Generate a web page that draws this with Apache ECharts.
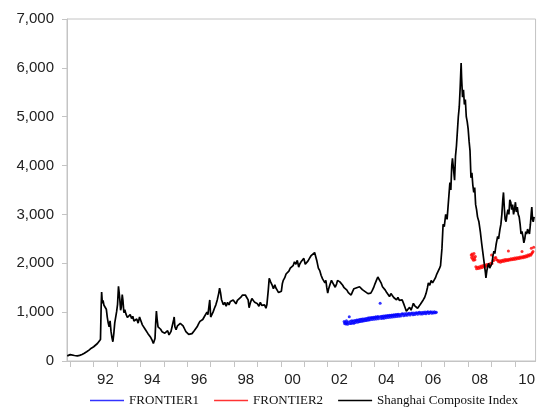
<!DOCTYPE html>
<html>
<head>
<meta charset="utf-8">
<script src="https://cdn.jsdelivr.net/npm/echarts@6/dist/echarts.min.js"></script>
<style>
  html, body { margin: 0; padding: 0; background: #fff; }
  #chart { width: 538px; height: 410px; }
</style>
</head>
<body>
<div id="chart"></div>
<script>
// x values are decimal years, y values index points
var sh1990_1996 = [
  [1990.87,105],[1990.92,128],[1991.00,131],[1991.08,126],[1991.18,113],[1991.30,105],[1991.40,116],
  [1991.50,134],[1991.60,160],[1991.70,190],[1991.80,222],[1991.90,262],[1992.00,292],[1992.08,318],
  [1992.16,358],[1992.24,392],[1992.29,440],[1992.32,1120],[1992.34,1410],[1992.37,1180],[1992.40,1240],
  [1992.44,1140],[1992.50,1100],[1992.54,1060],[1992.58,900],[1992.62,780],[1992.66,700],[1992.70,820],
  [1992.74,610],[1992.78,480],[1992.82,395],[1992.86,560],[1992.90,780],[1992.94,820],[1992.98,1010],
  [1993.02,1160],[1993.06,1530],[1993.09,1390],[1993.12,1240],[1993.15,1040],[1993.18,1100],[1993.22,1360],
  [1993.25,1240],[1993.29,990],[1993.33,1050],[1993.38,960],[1993.44,890],[1993.50,850],[1993.56,950],
  [1993.62,870],[1993.67,915],[1993.72,820],[1993.78,790],[1993.84,860],[1993.90,775],[1993.96,900],
  [1994.02,820],[1994.08,740],[1994.14,720],[1994.20,650],[1994.26,610],[1994.32,560],[1994.38,520],
  [1994.44,480],[1994.50,420],[1994.55,360],[1994.59,330],[1994.62,460],[1994.65,780],[1994.68,1020],
  [1994.71,860],[1994.75,700],[1994.80,730],[1994.86,650],[1994.92,600],[1994.98,640],[1995.04,570],
  [1995.10,555],[1995.16,620],[1995.22,535],[1995.30,600],[1995.38,580],[1995.42,850],[1995.44,900],
  [1995.47,700],[1995.52,640],[1995.58,720],[1995.64,700],[1995.70,770],[1995.76,740],[1995.82,720],
  [1995.88,660],[1995.94,600],[1996.00,560],[1996.06,545],[1996.12,525],[1996.20,560],[1996.28,610],
  [1996.36,640],[1996.42,700],[1996.48,760],[1996.54,810],[1996.60,780],[1996.66,850],[1996.72,900],
  [1996.78,870],[1996.84,1000],[1996.88,950],[1996.92,1100],[1996.96,1250],[1997.00,900]
];
var sh1997_2001 = [
  [1997.05,880],[1997.10,1000],[1997.16,1080],[1997.22,1150],[1997.28,1250],[1997.34,1380],[1997.38,1490],
  [1997.42,1400],[1997.46,1260],[1997.50,1300],[1997.54,1150],[1997.60,1200],[1997.66,1120],[1997.72,1200],
  [1997.78,1150],[1997.84,1220],[1997.90,1180],[1997.96,1250],[1998.02,1220],[1998.08,1170],[1998.14,1240],
  [1998.20,1200],[1998.28,1300],[1998.36,1350],[1998.42,1390],[1998.48,1350],[1998.54,1300],[1998.60,1250],
  [1998.64,1090],[1998.70,1200],[1998.76,1280],[1998.82,1240],[1998.88,1200],[1998.94,1160],[1999.00,1170],
  [1999.06,1120],[1999.12,1200],[1999.18,1140],[1999.24,1100],[1999.30,1150],[1999.36,1080],[1999.40,1150],
  [1999.46,1450],[1999.50,1690],[1999.56,1620],[1999.62,1560],[1999.68,1480],[1999.74,1560],[1999.78,1500],
  [1999.84,1450],[1999.90,1400],[1999.96,1380],[2000.02,1430],[2000.06,1580],[2000.10,1650],[2000.16,1700],
  [2000.22,1780],[2000.28,1800],[2000.34,1840],[2000.40,1900],[2000.46,1870],[2000.52,1950],[2000.58,2030],
  [2000.64,1980],[2000.70,2060],[2000.76,1920],[2000.80,1980],[2000.86,2030],[2000.92,2070],[2000.98,2100],
  [2001.04,1980],[2001.10,2000],[2001.16,2050],[2001.22,2100],[2001.28,2150],[2001.36,2180],[2001.44,2220],
  [2001.48,2180],[2001.54,2040],[2001.60,1900],[2001.66,1850],[2001.72,1750],[2001.78,1680],[2001.84,1720],
  [2001.88,1600],[2001.92,1650],[2001.96,1500]
];
var sh2002_2006 = [
  [2002.00,1390],[2002.04,1480],[2002.10,1570],[2002.16,1650],[2002.20,1620],[2002.26,1560],[2002.32,1510],
  [2002.38,1580],[2002.42,1650],[2002.46,1690],[2002.52,1620],[2002.58,1580],[2002.64,1550],[2002.70,1500],
  [2002.76,1520],[2002.82,1450],[2002.88,1400],[2002.94,1360],[2003.00,1350],[2003.06,1420],[2003.12,1480],
  [2003.18,1520],[2003.24,1500],[2003.30,1540],[2003.36,1520],[2003.42,1480],[2003.48,1460],[2003.54,1450],
  [2003.60,1420],[2003.66,1400],[2003.72,1380],[2003.78,1360],[2003.84,1390],[2003.90,1440],[2003.96,1500],
  [2004.02,1580],[2004.08,1650],[2004.14,1720],[2004.18,1750],[2004.22,1700],[2004.28,1600],[2004.34,1520],
  [2004.40,1480],[2004.46,1450],[2004.52,1400],[2004.58,1360],[2004.64,1320],[2004.70,1380],[2004.76,1340],
  [2004.82,1300],[2004.88,1280],[2004.94,1250],[2005.00,1300],[2005.06,1240],[2005.12,1200],[2005.18,1250],
  [2005.24,1180],[2005.30,1100],[2005.36,1020],[2005.40,1000],[2005.44,1060],[2005.50,1100],[2005.56,1040],
  [2005.62,1120],[2005.66,1180],[2005.72,1130],[2005.78,1100],[2005.84,1080],[2005.90,1120],[2005.96,1160],
  [2006.02,1200],[2006.08,1250],[2006.14,1300],[2006.20,1380],[2006.26,1500],[2006.30,1600],[2006.36,1550],
  [2006.42,1650],[2006.48,1600],[2006.54,1650],[2006.60,1700],[2006.66,1780],[2006.72,1800],[2006.78,1900],
  [2006.82,1950],[2006.88,2300],[2006.93,2800],[2006.98,2750]
];
var sh2007_2010 = [
  [2007.04,3000],[2007.10,2900],[2007.14,3150],[2007.18,3400],[2007.22,3650],[2007.26,3500],[2007.30,4000],
  [2007.33,4150],[2007.38,3900],[2007.42,3700],[2007.46,4200],[2007.50,4400],[2007.54,4700],[2007.58,5000],
  [2007.62,5200],[2007.66,5600],[2007.70,6100],[2007.72,5800],[2007.76,5400],[2007.80,5550],[2007.84,5250],
  [2007.88,5350],[2007.92,5000],[2007.96,4900],[2008.00,4750],[2008.04,4500],[2008.08,4300],[2008.12,3750],
  [2008.16,3850],[2008.20,3600],[2008.24,3450],[2008.28,3550],[2008.32,3200],[2008.36,3100],[2008.40,2950],
  [2008.46,2850],[2008.52,2650],[2008.58,2400],[2008.62,2250],[2008.66,2100],[2008.70,1950],[2008.74,1800],
  [2008.76,1700],[2008.80,1850],[2008.84,1950],[2008.88,2000],[2008.92,1900],[2008.97,1870],[2009.02,2000],
  [2009.06,2150],[2009.10,2250],[2009.14,2200],[2009.20,2400],[2009.26,2550],[2009.30,2500],[2009.36,2700],
  [2009.40,2800],[2009.44,3000],[2009.48,3300],[2009.51,3450],[2009.55,3100],[2009.58,2900],[2009.62,2850],
  [2009.66,3000],[2009.70,3100],[2009.74,3000],[2009.78,3300],[2009.82,3250],[2009.86,3100],[2009.90,3200],
  [2009.94,3000],[2009.98,3100],[2010.02,3250],[2010.06,3050],[2010.10,3150],[2010.14,3000],[2010.18,2950],
  [2010.22,2800],[2010.26,2600],[2010.30,2650],[2010.34,2550],[2010.38,2420],[2010.42,2500],[2010.46,2650],
  [2010.50,2600],[2010.54,2700],[2010.58,2650],[2010.62,2600],[2010.66,2800],[2010.70,3050],[2010.72,3150],
  [2010.75,2900],[2010.78,2850],[2010.82,2950]
];

var frontier1 = [
  [2002.70,810],[2002.72,770],[2002.75,795],[2002.77,755],[2002.80,825],[2002.82,778],[2002.85,752],
  [2002.88,800],[2002.92,905],[2002.94,765],[2002.97,815],[2003.00,770],[2003.03,822],[2003.06,780],
  [2003.09,818],[2003.12,775],[2003.15,830],[2003.18,790],[2003.21,822],[2003.24,840],[2003.27,795],
  [2003.30,838],[2003.33,805],[2003.36,848],[2003.39,808],[2003.42,852],[2003.45,815],[2003.48,858],
  [2003.51,818],[2003.54,862],[2003.57,826],[2003.60,866],[2003.63,830],[2003.66,872],[2003.69,836],
  [2003.72,878],[2003.75,840],[2003.78,884],[2003.81,845],[2003.84,880],[2003.87,892],[2003.90,850],
  [2003.93,886],[2003.96,898],[2003.99,856],[2004.02,892],[2004.05,905],[2004.08,862],[2004.11,896],
  [2004.14,910],[2004.17,866],[2004.20,900],[2004.24,1180],[2004.26,912],[2004.29,872],[2004.32,916],
  [2004.35,880],[2004.38,920],[2004.41,876],[2004.44,914],[2004.47,926],[2004.50,884],[2004.53,920],
  [2004.56,930],[2004.59,890],[2004.62,926],[2004.65,936],[2004.68,894],[2004.71,930],[2004.74,942],
  [2004.77,900],[2004.80,936],[2004.83,948],[2004.86,906],[2004.89,942],[2004.92,952],[2004.95,912],
  [2004.98,946],[2005.01,958],[2005.04,916],[2005.08,950],[2005.12,922],[2005.16,960],[2005.20,966],
  [2005.24,928],[2005.28,966],[2005.32,934],[2005.36,972],[2005.40,936],[2005.44,968],[2005.48,978],
  [2005.52,942],[2005.56,974],[2005.60,982],[2005.64,948],[2005.68,984],[2005.72,952],[2005.76,980],
  [2005.80,990],[2005.84,956],[2005.88,986],[2005.92,996],[2005.96,960],[2006.00,992],[2006.04,964],
  [2006.08,998],[2006.12,970],[2006.16,1002],[2006.20,968],[2006.24,996],[2006.28,1006],[2006.32,972],
  [2006.36,998],[2006.40,1010],[2006.44,976],[2006.48,1004],[2006.52,980],[2006.56,1008],[2006.60,986],
  [2006.64,1000]
];
var frontier2 = [
  [2008.13,2170],[2008.15,2120],[2008.17,2190],[2008.19,2090],[2008.21,2150],[2008.23,2060],[2008.25,2200],
  [2008.27,2110],[2008.29,2070],[2008.31,2140],[2008.33,1930],[2008.36,1890],[2008.40,1920],[2008.44,1895],
  [2008.48,1930],[2008.52,1905],[2008.56,1945],[2008.60,1915],[2008.64,1955],[2008.68,1930],[2008.72,1965],
  [2008.76,1940],[2008.80,1975],[2008.84,1948],[2008.88,1980],[2008.92,1960],[2008.96,2000],[2009.00,2170],
  [2009.02,1995],[2009.06,2050],[2009.10,2060],[2009.14,2110],[2009.18,2120],[2009.22,2070],[2009.26,2060],
  [2009.30,2030],[2009.34,2050],[2009.38,2020],[2009.42,2055],[2009.46,2035],[2009.50,2065],[2009.54,2040],
  [2009.58,2075],[2009.62,2050],[2009.66,2075],[2009.70,2055],[2009.72,2250],[2009.74,2085],[2009.78,2065],
  [2009.82,2095],[2009.86,2070],[2009.90,2100],[2009.94,2080],[2009.98,2110],[2010.02,2085],[2010.06,2115],
  [2010.10,2095],[2010.14,2120],[2010.18,2100],[2010.22,2130],[2010.26,2110],[2010.30,2240],[2010.31,2135],
  [2010.35,2115],[2010.39,2145],[2010.43,2125],[2010.47,2155],[2010.51,2135],[2010.55,2170],[2010.59,2150],
  [2010.63,2180],[2010.67,2165],[2010.70,2310],[2010.71,2195],[2010.74,2215],[2010.77,2240],[2010.80,2330]
];

var yearTicks = [1991,1992,1993,1994,1995,1996,1997,1998,1999,2000,
                 2001,2002,2003,2004,2005,2006,2007,2008,2009,2010];
var labelYears = [1992,1994,1996,1998,2000,2002,2004,2006,2008,2010];
var xMin = 1990.86, xMax = 2010.88;

var axisGrey = '#c4c4c4';
var chart = echarts.init(document.getElementById('chart'));

chart.setOption({
  animation: false,
  grid: { left: 67, top: 19, right: -3, bottom: 49, show: true, borderColor: axisGrey, borderWidth: 1 },
  legend: {
    left: 85, top: 389,
    icon: 'rect', itemWidth: 34, itemHeight: 1.5, itemGap: 15,
    textStyle: { fontFamily: 'Liberation Serif', fontSize: 13, color: '#111' },
    data: ['FRONTIER1', 'FRONTIER2', 'Shanghai Composite Index']
  },
  xAxis: {
    type: 'value', min: xMin, max: xMax,
    splitLine: { show: false },
    axisLine: { lineStyle: { color: axisGrey } },
    axisTick: { customValues: yearTicks, length: 6, lineStyle: { color: axisGrey } },
    axisLabel: {
      customValues: labelYears.map(function (y) { return y + 0.5; }),
      formatter: function (v) { return String(Math.floor(v)).slice(2); },
      margin: 11, fontFamily: 'Liberation Sans', fontSize: 15, color: '#222'
    }
  },
  yAxis: {
    type: 'value', min: 0, max: 7000, interval: 1000,
    splitLine: { show: false },
    axisLine: { show: true, lineStyle: { color: axisGrey } },
    axisTick: { show: true, length: 5, lineStyle: { color: axisGrey } },
    axisLabel: {
      margin: 13, fontFamily: 'Liberation Sans', fontSize: 15, color: '#222',
      formatter: function (v) { return v.toLocaleString('en-US'); }
    }
  },
  series: [
    { name: 'FRONTIER1', type: 'scatter', data: frontier1, symbolSize: 3,
      itemStyle: { color: '#0000ff' } },
    { name: 'FRONTIER2', type: 'scatter', data: frontier2, symbolSize: 3,
      itemStyle: { color: '#ff0000' } },
    { name: 'Shanghai Composite Index', type: 'line', showSymbol: false,
      data: sh1990_1996.concat(sh1997_2001, sh2002_2006, sh2007_2010),
      lineStyle: { color: '#000', width: 1.7 }, itemStyle: { color: '#000' } }
  ]
});
</script>
</body>
</html>
